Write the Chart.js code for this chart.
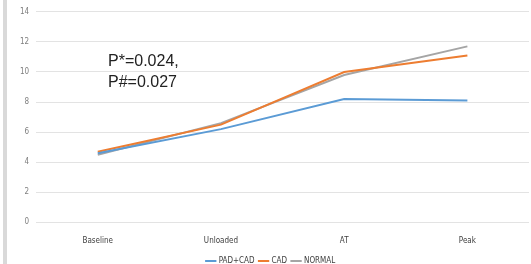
<!DOCTYPE html>
<html>
<head>
<meta charset="utf-8">
<script src="https://cdn.jsdelivr.net/npm/chart.js@4"></script>
<style>
  html, body { margin: 0; padding: 0; background: #fff; }
  #wrap { position: relative; width: 531px; height: 264px; }
  #bar { position: absolute; left: 3px; top: 0; width: 4px; height: 264px; background: #d9d9d9; }
  canvas { position: absolute; left: 0; top: 0; }
</style>
</head>
<body>
<div id="wrap">
  <div id="bar"></div>
  <canvas id="chart" width="531" height="264"></canvas>
</div>
<script>
const labels = ["Baseline", "Unloaded", "AT", "Peak"];
const padCad = [4.6, 6.2, 8.2, 8.1];
const cad = [4.7, 6.5, 10.0, 11.1];
const normal = [4.5, 6.6, 9.8, 11.7];
const yTicks = [0, 2, 4, 6, 8, 10, 12, 14];
const noteLines = ["P*=0.024,", "P#=0.027"];

const tickFont = { family: "'Liberation Sans Narrow', 'DejaVu Sans Condensed', sans-serif", size: 8 };

// draws the p-value note in the upper left of the plot
const notePlugin = {
  id: "note",
  afterDatasetsDraw(chart) {
    const ctx = chart.ctx;
    ctx.save();
    ctx.fillStyle = "#222";
    ctx.font = "16px 'Liberation Sans', Arial, sans-serif";
    ctx.textBaseline = "middle";
    ctx.fillText(noteLines[0], 108, 62);
    ctx.fillText(noteLines[1], 108, 83);
    ctx.restore();
  },
};

let chart = new Chart(document.getElementById("chart"), {
  type: "line",
  data: {
    labels: labels,
    datasets: [
      {
        label: "PAD+CAD",
        data: padCad,
        borderColor: "#5b9bd5",
        backgroundColor: "#5b9bd5",
        borderWidth: 2,
        pointRadius: 0,
      },
      {
        label: "CAD",
        data: cad,
        borderColor: "#ed7d31",
        backgroundColor: "#ed7d31",
        borderWidth: 2,
        pointRadius: 0,
      },
      {
        label: "NORMAL",
        data: normal,
        borderColor: "#a5a5a5",
        backgroundColor: "#a5a5a5",
        borderWidth: 2,
        pointRadius: 0,
      },
    ],
  },
  options: {
    responsive: false,
    animation: false,
    layout: { padding: { left: 13, right: 2, top: 8, bottom: -11 } },
    plugins: {
      legend: {
        position: "bottom",
        labels: {
          usePointStyle: true,
          pointStyle: "line",
          boxWidth: 16,
          padding: 5,
          color: "#404040",
          font: tickFont,
        },
      },
      tooltip: { enabled: false },
    },
    scales: {
      x: {
        offset: true,
        grid: { display: false },
        border: { display: false },
        ticks: { color: "#404040", font: tickFont, padding: 6 },
      },
      y: {
        min: 0,
        max: 14,
        afterBuildTicks: (axis) => {
          axis.ticks = yTicks.map((v) => ({ value: v }));
        },
        grid: { color: "#e3e3e3", drawTicks: false },
        border: { display: false },
        ticks: { color: "#7f7f7f", font: tickFont, padding: 7 },
      },
    },
  },
  plugins: [notePlugin],
});
</script>
</body>
</html>
